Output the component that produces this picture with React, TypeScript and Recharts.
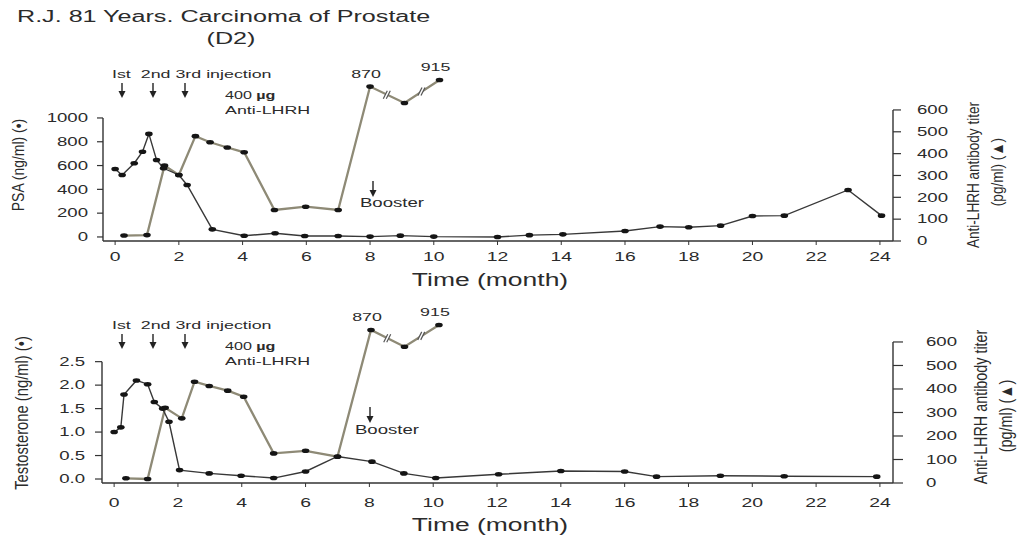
import React from 'react'
import { LineChart, Line, XAxis, YAxis, ReferenceLine, ReferenceDot, LabelList } from 'recharts'

// top panel: PSA (ng/ml, dots) and anti-LHRH titer (pg/ml, triangles)
const psaMonths = [0, 0.22, 0.6, 0.86, 1.06, 1.3, 1.52, 2.0, 2.26, 3.05, 4.05, 5.02, 5.95, 7.0, 8.0, 8.95, 10.0, 12.0, 13.0, 14.05, 16.0, 17.1, 18.0, 19.0, 20.0, 21.0, 23.0, 24.05]
const psaValues = [571, 521, 620, 716, 866, 647, 577, 521, 437, 64, 10, 31, 8, 8, 3, 11, 3, 0, 15, 22, 50, 87, 81, 95, 176, 179, 395, 179]
const titerTopMonths = [0.28, 1.0, 1.55, 2.0, 2.52, 2.98, 3.52, 4.05, 5.0, 5.98, 7.0, 8.0, 9.08, 10.18]
// values above 600 sit on a broken axis: these are the drawn heights, the real ones are in the labels
const titerTopValues = [25, 27, 345, 302, 480, 452, 428, 406, 142, 157, 142, 707, 632, 737]
const titerTopLabels = ['', '', '', '', '', '', '', '', '', '', '', '870', '', '915']

// bottom panel: testosterone (ng/ml) and the same titer
const testoMonths = [0, 0.21, 0.31, 0.7, 1.05, 1.26, 1.52, 1.72, 2.05, 2.98, 3.98, 5.0, 6.0, 7.0, 8.08, 9.08, 10.08, 12.05, 14.0, 16.0, 17.0, 19.0, 21.0, 23.9]
const testoValues = [1.0, 1.1, 1.8, 2.1, 2.02, 1.64, 1.5, 1.22, 0.19, 0.12, 0.07, 0.02, 0.16, 0.48, 0.37, 0.12, 0.02, 0.1, 0.17, 0.16, 0.05, 0.07, 0.06, 0.05]
const titerBotMonths = [0.37, 1.05, 1.6, 2.12, 2.52, 2.98, 3.56, 4.06, 5.0, 6.0, 7.0, 8.05, 9.1, 10.18]
const titerBotValues = [20, 17, 320, 275, 431, 413, 393, 367, 126, 137, 112, 651, 580, 672]
const titerBotLabels = ['', '', '', '', '', '', '', '', '', '', '', '870', '', '915']

const monthTicks = [0, 2, 4, 6, 8, 10, 12, 14, 16, 18, 20, 22, 24]
const psaTicks = [0, 200, 400, 600, 800, 1000]
const testoTicks = [0, 0.5, 1, 1.5, 2, 2.5]
const titerTicks = [0, 100, 200, 300, 400, 500, 600]

const W = 1025
const H = 540
const YW = 60
const XH = 30
const X_MIN = -0.38
const X_MAX = 24.41
const SX = 1.55 // the scan is stretched sideways
const SANS = "'Liberation Sans', Arial, sans-serif"
const INK = '#2b2b2b'

const toPoints = (ms: number[], vs: number[], labels?: string[]) =>
  ms.map((m, i) => ({ m, v: vs[i], label: labels ? labels[i] : '' }))

// break marks on the segments past the first labelled (off-scale) point
const breakMarks = (ms: number[], vs: number[], labels: string[]) => {
  const first = labels.findIndex(l => l !== '')
  return ms.slice(1).map((m, i) => ({ m: (ms[i] + m) / 2, v: (vs[i] + vs[i + 1]) / 2, i }))
    .filter(p => p.i >= first)
}

const dot = (props: any) => (
  <ellipse key={`d${props.index}`} cx={props.cx} cy={props.cy} rx={3.8} ry={2.3} fill="#151515" />
)

const breakShape = (props: any) => {
  const { cx, cy } = props
  return (
    <g>
      <polygon points={`${cx - 4},${cy + 4} ${cx},${cy - 4} ${cx + 3},${cy - 4} ${cx - 1},${cy + 4}`} fill="#fff" />
      <line x1={cx - 4} y1={cy + 4} x2={cx} y2={cy - 4} stroke="#555" strokeWidth={1.2} />
      <line x1={cx - 1} y1={cy + 4} x2={cx + 3} y2={cy - 4} stroke="#555" strokeWidth={1.2} />
    </g>
  )
}

const peakLabel = (props: any) => {
  const { x, y, value } = props
  if (!value) return null
  return (
    <text transform={`translate(${x - 4},${y - 9}) scale(${SX},1)`} textAnchor="middle" fontSize={11.5} fontFamily={SANS} fill={INK}>
      {value}
    </text>
  )
}

const xTick = (dy: number) => (props: any) => (
  <text transform={`translate(${props.x},${props.y}) scale(${SX},1)`} textAnchor="middle" dy={dy} fontSize={12.5} fontFamily={SANS} fill={INK}>
    {props.payload.value}
  </text>
)

const leftTick = (shift: number, fmt: (v: number) => string) => (props: any) => (
  <text transform={`translate(${props.x + shift},${props.y}) scale(${SX},1)`} textAnchor="end" dy="0.36em" fontSize={12} fontFamily={SANS} fill={INK}>
    {fmt(props.payload.value)}
  </text>
)

const rightTick = (shift: number) => (props: any) => (
  <text transform={`translate(${props.x + shift},${props.y}) scale(${SX},1)`} textAnchor="start" dy="0.36em" fontSize={12} fontFamily={SANS} fill={INK}>
    {props.payload.value}
  </text>
)

interface PanelProps {
  top: number
  bottom: number
  left: number
  right: number
  leftDomain: [number, number]
  leftTicks: number[]
  leftFmt: (v: number) => string
  leftTickLen: number
  leftShift: number
  rightDomain: [number, number]
  rightTickLen: number
  rightShift: number
  xDy: number
  hormone: { m: number; v: number }[]
  titer: { m: number; v: number; label: string }[]
  breaks: { m: number; v: number }[]
}

function Panel(p: PanelProps) {
  const axis = { stroke: '#333', strokeWidth: 1.4 }
  return (
    <div style={{ position: 'absolute', left: 0, top: 0 }}>
      <LineChart
        width={W}
        height={H}
        margin={{ top: p.top, bottom: H - p.bottom - XH, left: p.left - YW, right: W - p.right - YW }}
      >
        <XAxis
          type="number"
          dataKey="m"
          domain={[X_MIN, X_MAX]}
          ticks={monthTicks}
          interval={0}
          height={XH}
          tickSize={4}
          axisLine={axis}
          tickLine={{ stroke: '#333' }}
          tick={xTick(p.xDy)}
          allowDataOverflow
        />
        <YAxis
          yAxisId="left"
          orientation="left"
          width={YW}
          domain={p.leftDomain}
          ticks={p.leftTicks}
          interval={0}
          tickSize={p.leftTickLen}
          axisLine={false}
          tickLine={{ stroke: '#333', strokeWidth: 1.2 }}
          tick={leftTick(p.leftShift, p.leftFmt)}
          allowDataOverflow
        />
        <YAxis
          yAxisId="right"
          orientation="right"
          width={YW}
          domain={p.rightDomain}
          ticks={titerTicks}
          interval={0}
          tickSize={p.rightTickLen}
          axisLine={false}
          tickLine={{ stroke: '#333', strokeWidth: 1.2 }}
          tick={rightTick(p.rightShift)}
          allowDataOverflow
        />
        <ReferenceLine
          yAxisId="left"
          segment={[{ x: X_MIN, y: p.leftDomain[0] }, { x: X_MIN, y: p.leftTicks[p.leftTicks.length - 1] }]}
          stroke="#333"
          strokeWidth={1.4}
        />
        <ReferenceLine
          yAxisId="right"
          segment={[{ x: X_MAX, y: 0 }, { x: X_MAX, y: 600 }]}
          stroke="#333"
          strokeWidth={1.4}
        />
        <Line
          yAxisId="right"
          data={p.titer}
          dataKey="v"
          type="linear"
          stroke="#8e8a76"
          strokeWidth={2.3}
          dot={dot}
          isAnimationActive={false}
        >
          <LabelList dataKey="label" content={peakLabel} />
        </Line>
        <Line
          yAxisId="left"
          data={p.hormone}
          dataKey="v"
          type="linear"
          stroke="#383838"
          strokeWidth={1.4}
          dot={dot}
          isAnimationActive={false}
        />
        {p.breaks.map((b, i) => (
          <ReferenceDot key={i} yAxisId="right" x={b.m} y={b.v} shape={breakShape} />
        ))}
      </LineChart>
    </div>
  )
}

function Txt({ x, y, size, children, anchor = 'start', scale = SX }: any) {
  return (
    <div
      style={{
        position: 'absolute',
        left: x,
        top: y - 0.49 * size,
        fontSize: size,
        lineHeight: 1,
        whiteSpace: 'pre',
        fontFamily: SANS,
        color: INK,
        transform: anchor === 'middle' ? `translateX(-50%) scaleX(${scale})` : `scaleX(${scale})`,
        transformOrigin: anchor === 'middle' ? 'center center' : 'left center',
      }}
    >
      {children}
    </div>
  )
}

// rotated axis titles, set in a condensed cut of the sans face
function VTxt({ x, y, size, children }: any) {
  return (
    <div
      style={{
        position: 'absolute',
        left: x,
        top: y,
        fontSize: size,
        lineHeight: 1,
        whiteSpace: 'nowrap',
        fontFamily: SANS,
        color: INK,
        transform: 'translate(-50%, -50%) rotate(-90deg) scaleX(0.82)',
      }}
    >
      {children}
    </div>
  )
}

function Arrow({ x, y1, y2 }: { x: number; y1: number; y2: number }) {
  const h = y2 - y1
  return (
    <svg style={{ position: 'absolute', left: x - 5, top: y1 }} width={10} height={h}>
      <line x1={5} y1={0} x2={5} y2={h - 5} stroke="#222" strokeWidth={1.4} />
      <polygon points={`1.5,${h - 7} 8.5,${h - 7} 5,${h}`} fill="#222" />
    </svg>
  )
}

function Notes({ dy }: { dy: number }) {
  return (
    <>
      <Txt x={112} y={75 + dy} size={11.5}>{'Ist  2nd 3rd injection'}</Txt>
      <Arrow x={122} y1={83 + dy} y2={98 + dy} />
      <Arrow x={153} y1={83 + dy} y2={98 + dy} />
      <Arrow x={185} y1={83 + dy} y2={98 + dy} />
      <Txt x={225} y={96 + dy} size={11.5} scale={1.4}>
        400 <b>µg</b>
      </Txt>
      <Txt x={225} y={111 + dy} size={11.5}>Anti-LHRH</Txt>
    </>
  )
}

export default function App() {
  return (
    <div style={{ position: 'absolute', left: 0, top: 0, width: W, height: H, background: '#fff', overflow: 'hidden' }}>
      <Panel
        top={75}
        bottom={241}
        left={103}
        right={893}
        leftDomain={[-34, 1361]}
        leftTicks={psaTicks}
        leftFmt={v => String(v)}
        leftTickLen={6}
        leftShift={-7}
        rightDomain={[0, 760]}
        rightTickLen={8}
        rightShift={14}
        xDy={14}
        hormone={toPoints(psaMonths, psaValues)}
        titer={toPoints(titerTopMonths, titerTopValues, titerTopLabels)}
        breaks={breakMarks(titerTopMonths, titerTopValues, titerTopLabels)}
      />
      <Panel
        top={318}
        bottom={483}
        left={102}
        right={893}
        leftDomain={[-0.085, 3.43]}
        leftTicks={testoTicks}
        leftFmt={v => v.toFixed(1)}
        leftTickLen={7}
        leftShift={-8}
        rightDomain={[0, 702]}
        rightTickLen={10}
        rightShift={21}
        xDy={18.5}
        hormone={toPoints(testoMonths, testoValues)}
        titer={toPoints(titerBotMonths, titerBotValues, titerBotLabels)}
        breaks={breakMarks(titerBotMonths, titerBotValues, titerBotLabels)}
      />
      <div style={{ position: 'absolute', inset: 0, pointerEvents: 'none' }}>
        <Txt x={17} y={17} size={16} scale={1.57}>R.J. 81 Years. Carcinoma of Prostate</Txt>
        <Txt x={231} y={39} size={16} scale={1.57} anchor="middle">(D2)</Txt>

        <Notes dy={0} />
        <Notes dy={251} />

        <Arrow x={373} y1={181} y2={197} />
        <Txt x={392} y={203} size={12} anchor="middle">Booster</Txt>
        <Arrow x={370} y1={407} y2={423} />
        <Txt x={387} y={430} size={12} anchor="middle">Booster</Txt>

        <Txt x={490} y={280} size={18} scale={1.47} anchor="middle">Time (month)</Txt>
        <Txt x={490} y={525} size={18} scale={1.47} anchor="middle">Time (month)</Txt>

        <VTxt x={18} y={165} size={17}>PSA (ng/ml) (•)</VTxt>
        <VTxt x={22} y={413} size={18}>Testosterone (ng/ml) (•)</VTxt>
        <VTxt x={973} y={175} size={16.5}>Anti-LHRH antibody titer</VTxt>
        <VTxt x={997} y={172} size={16.5}>(pg/ml) (▲)</VTxt>
        <VTxt x={982} y={407} size={17.5}>Anti-LHRH antibody titer</VTxt>
        <VTxt x={1007} y={416} size={17.5}>(pg/ml) (▲)</VTxt>
      </div>
    </div>
  )
}
